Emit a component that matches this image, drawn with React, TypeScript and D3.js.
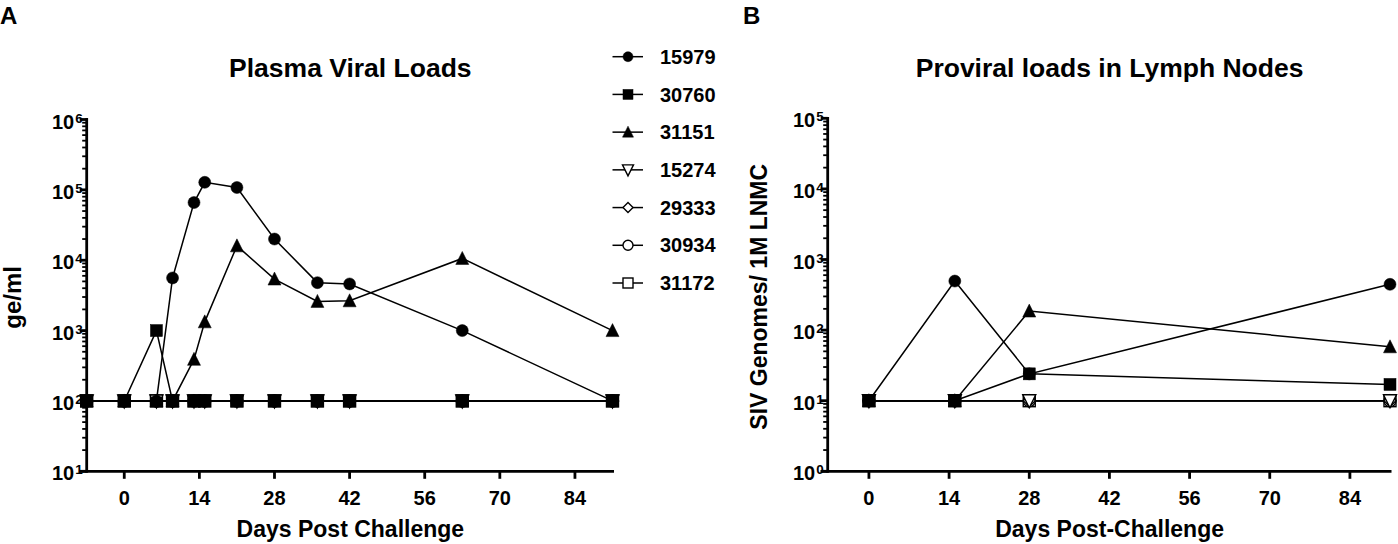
import React from 'react'
import * as d3 from 'd3'

// ---- data ----
const plasmaDays = [-7, 0, 6, 9, 13, 15, 21, 28, 36, 42, 63, 91]
const plasma15979 = [100, 100, 100, 5600, 66000, 128000, 108000, 20000, 4800, 4600, 1000, 100]
const plasma30760 = [100, 100, 1000, 100, 100, 100, 100, 100, 100, 100, 100, 100]
const plasma31151 = [100, 100, 100, 100, 390, 1330, 16000, 5400, 2600, 2650, 10600, 1000]
const plasma15274 = [100, 100, 100, 100, 100, 100, 100, 100, 100, 100, 100, 100]
const plasma29333 = [100, 100, 100, 100, 100, 100, 100, 100, 100, 100, 100, 100]
const plasma30934 = [100, 100, 100, 100, 100, 100, 100, 100, 100, 100, 100, 100]
const plasma31172 = [100, 100, 100, 100, 100, 100, 100, 100, 100, 100, 100, 100]

const lnDays = [0, 15, 28, 91]
const ln15979 = [10, 495, 24, 445]
const ln30760 = [10, 10, 24, 17]
const ln31151 = [10, 10, 186, 58]
const ln15274 = [10, 10, 10, 10]
const ln29333 = [10, 10, 10, 10]
const ln30934 = [10, 10, 10, 10]
const ln31172 = [10, 10, 10, 10]

const animals = ['15979', '30760', '31151', '15274', '29333', '30934', '31172']
const xTicks = [0, 14, 28, 42, 56, 70, 84]

type Shape = 'circle' | 'square' | 'triangle' | 'triDown' | 'diamond'
const shapes: Record<string, { shape: Shape; filled: boolean }> = {
  '15979': { shape: 'circle', filled: true },
  '30760': { shape: 'square', filled: true },
  '31151': { shape: 'triangle', filled: true },
  '15274': { shape: 'triDown', filled: false },
  '29333': { shape: 'diamond', filled: false },
  '30934': { shape: 'circle', filled: false },
  '31172': { shape: 'square', filled: false },
}
// draw order: last one ends up on top
const drawOrder = ['31172', '30934', '29333', '15274', '31151', '15979', '30760']

const plasmaSeries: Record<string, number[]> = {
  '15979': plasma15979, '30760': plasma30760, '31151': plasma31151, '15274': plasma15274,
  '29333': plasma29333, '30934': plasma30934, '31172': plasma31172,
}
const lnSeries: Record<string, number[]> = {
  '15979': ln15979, '30760': ln30760, '31151': ln31151, '15274': ln15274,
  '29333': ln29333, '30934': ln30934, '31172': ln31172,
}

const FONT = "'Liberation Sans', Arial, Helvetica, sans-serif"

function Marker({ x, y, shape, filled, s }: { x: number; y: number; shape: Shape; filled: boolean; s: number }) {
  const fill = filled ? '#000' : '#fff'
  const sw = filled ? 0.5 : 1.4
  const h = s / 2
  if (shape === 'circle') return <circle cx={x} cy={y} r={h} fill={fill} stroke="#000" strokeWidth={sw} />
  if (shape === 'square') return <rect x={x - h} y={y - h} width={s} height={s} fill={fill} stroke="#000" strokeWidth={sw} />
  if (shape === 'triangle')
    return <path d={`M${x},${y - h - 1}L${x + h + 0.5},${y + h}L${x - h - 0.5},${y + h}Z`} fill={fill} stroke="#000" strokeWidth={sw} />
  if (shape === 'triDown')
    return <path d={`M${x - h - 0.5},${y - h}L${x + h + 0.5},${y - h}L${x},${y + h + 1}Z`} fill={fill} stroke="#000" strokeWidth={sw} />
  return <path d={`M${x},${y - h}L${x + h},${y}L${x},${y + h}L${x - h},${y}Z`} fill={fill} stroke="#000" strokeWidth={sw} />
}

type PanelProps = {
  days: number[]
  series: Record<string, number[]>
  xDomain: [number, number]
  xRange: [number, number]
  axisRight: number
  yDomain: [number, number]
  yRange: [number, number]
  title: string
  xLabel: string
  yLabel: string
  yLabelX: number
  yLabelSize: number
  letter: string
  letterX: number
}

function Panel(p: PanelProps) {
  const x = d3.scaleLinear().domain(p.xDomain).range(p.xRange)
  const y = d3.scaleLog().domain(p.yDomain).range(p.yRange)
  const x0 = p.xRange[0]
  const yBottom = p.yRange[0]
  const yTop = p.yRange[1]
  const cx = (x0 + p.axisRight) / 2
  const lo = Math.log10(p.yDomain[0]), hi = Math.log10(p.yDomain[1])
  const majors = d3.range(lo, hi + 1).map((e) => Math.pow(10, e))
  const minors: number[] = []
  for (let e = lo; e < hi; e++) for (let k = 2; k <= 9; k++) minors.push(k * Math.pow(10, e))
  const line = d3.line<number>().x((_, i) => x(p.days[i])).y((v) => y(v))

  return (
    <g fontFamily={FONT} fontWeight="bold">
      <text x={p.letterX} y={24} fontSize={24}>{p.letter}</text>
      <text x={cx} y={77} fontSize={26.5} textAnchor="middle">{p.title}</text>
      <text x={cx} y={537} fontSize={23} textAnchor="middle">{p.xLabel}</text>
      <text transform={`translate(${p.yLabelX},${(yTop + yBottom) / 2 + 2}) rotate(-90)`} fontSize={p.yLabelSize} textAnchor="middle">
        {p.yLabel}
      </text>

      {/* axes */}
      <g stroke="#000" strokeWidth={2.8} fill="none">
        <line x1={x0} x2={x0} y1={yTop - 1.4} y2={yBottom + 1.4} />
        <line x1={x0 - 7} x2={p.axisRight} y1={yBottom} y2={yBottom} />
        {majors.map((v) => <line key={'M' + v} x1={x0 - 7} x2={x0} y1={y(v)} y2={y(v)} />)}
        {minors.map((v) => <line key={'m' + v} x1={x0 - 4.5} x2={x0} y1={y(v)} y2={y(v)} strokeWidth={1.8} />)}
        {xTicks.map((t) => <line key={'x' + t} x1={x(t)} x2={x(t)} y1={yBottom} y2={yBottom + 7.5} />)}
      </g>
      {xTicks.map((t) => (
        <text key={'xl' + t} x={x(t)} y={504.5} fontSize={20} textAnchor="middle">{t}</text>
      ))}
      {majors.map((v) => (
        <text key={'yl' + v} x={x0 - 4} y={y(v) + 9} fontSize={20} textAnchor="end">
          10<tspan fontSize={13.5} dx={1} dy={-6}>{Math.round(Math.log10(v))}</tspan>
        </text>
      ))}

      {/* series */}
      {drawOrder.map((k) => (
        <path key={'l' + k} d={line(p.series[k]) || ''} fill="none" stroke="#000" strokeWidth={1.5} />
      ))}
      {drawOrder.map((k) =>
        p.series[k].map((v, i) => (
          <Marker key={k + i} x={x(p.days[i])} y={y(v)} shape={shapes[k].shape} filled={shapes[k].filled} s={12} />
        ))
      )}
    </g>
  )
}

function Legend() {
  const ly = d3.scalePoint().domain(animals).range([56.7, 283])
  return (
    <g fontFamily={FONT} fontWeight="bold">
      {animals.map((a) => (
        <g key={a}>
          <line x1={612.5} x2={643} y1={ly(a)} y2={ly(a)} stroke="#000" strokeWidth={1.5} />
          <Marker x={628} y={ly(a)!} shape={shapes[a].shape} filled={shapes[a].filled} s={10} />
          <text x={660} y={ly(a)! + 7.2} fontSize={20}>{a}</text>
        </g>
      ))}
    </g>
  )
}

export default function App() {
  return (
    <svg width={1398} height={544} style={{ position: 'absolute', left: 0, top: 0, background: '#fff' }}>
      <Panel
        days={plasmaDays}
        series={plasmaSeries}
        xDomain={[-7, 91]}
        xRange={[86.7, 612.5]}
        axisRight={614}
        yDomain={[10, 1e6]}
        yRange={[471.3, 119.5]}
        title="Plasma Viral Loads"
        xLabel="Days Post Challenge"
        yLabel="ge/ml"
        yLabelX={21}
        yLabelSize={24}
        letter="A"
        letterX={0}
      />
      <Legend />
      <Panel
        days={lnDays}
        series={lnSeries}
        xDomain={[-7.2, 91]}
        xRange={[827.7, 1390]}
        axisRight={1391.5}
        yDomain={[1, 1e5]}
        yRange={[471.3, 118.3]}
        title="Proviral loads in Lymph Nodes"
        xLabel="Days Post-Challenge"
        yLabel="SIV Genomes/ 1M LNMC"
        yLabelX={767}
        yLabelSize={23}
        letter="B"
        letterX={743}
      />
    </svg>
  )
}
